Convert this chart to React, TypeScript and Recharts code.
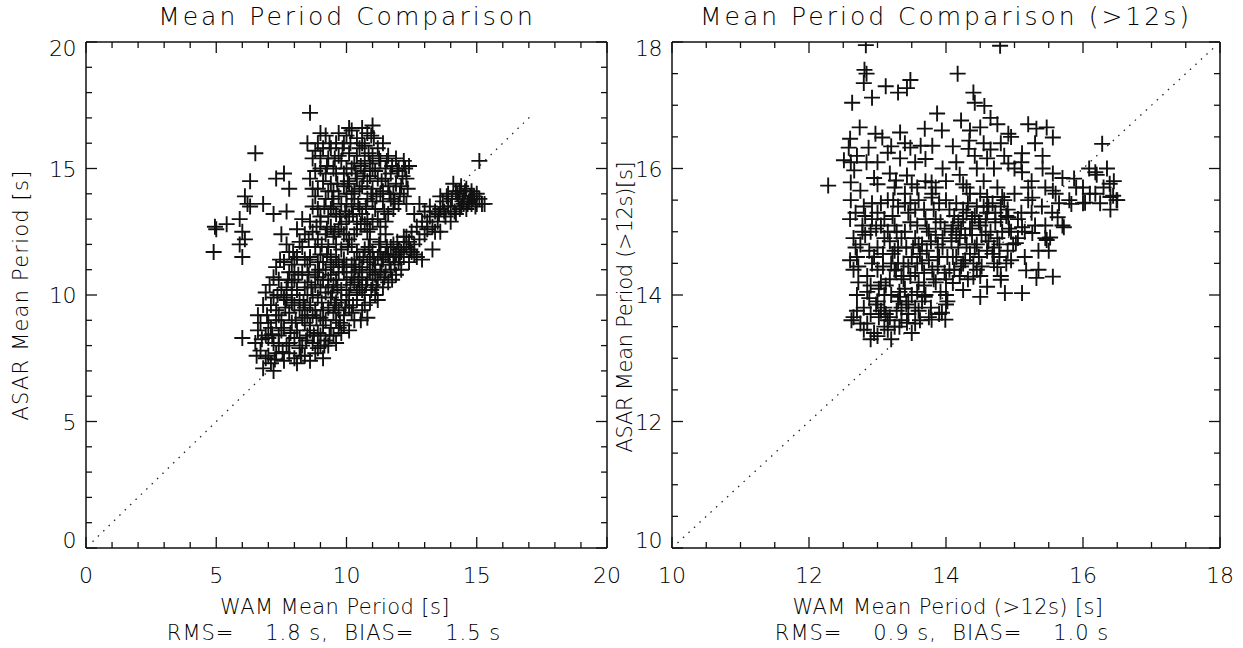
import { ScatterChart, Scatter, XAxis, YAxis, ReferenceLine } from 'recharts';

const FONT = '"DejaVu Sans", "Liberation Sans", sans-serif';
const NB = '\u00A0';

// left panel: all mean periods
const allMajor = [0, 5, 10, 15, 20];
const allMinor = [0, 1, 2, 3, 4, 5, 6, 7, 8, 9, 10, 11, 12, 13, 14, 15, 16, 17, 18, 19, 20];
const allDiag = [0.25, 17.1];

// right panel: periods above 12 s
const longMajor = [10, 12, 14, 16, 18];
const longMinor = [10, 10.5, 11, 11.5, 12, 12.5, 13, 13.5, 14, 14.5, 15, 15.5, 16, 16.5, 17, 17.5, 18];
const longDiag = [10.08, 17.9];

const allStats = ['1.8', '1.5'];
const longStats = ['0.9', '1.0'];

// [WAM, ASAR] pairs
const allPoints: [number, number][] = [
  // scattered low-WAM group
  [4.9, 11.7], [4.95, 12.7], [5.0, 12.6], [5.4, 12.8], [5.9, 13.0], [5.9, 12.0], [6.0, 11.5], [6.1, 12.2],
  [6.3, 14.5], [6.5, 15.6], [6.1, 13.9], [6.3, 13.5], [6.8, 13.6], [7.3, 14.6], [7.6, 14.8], [7.8, 14.2],
  [7.2, 13.2], [7.7, 13.3], [6.0, 8.3], [7.5, 12.4], [7.8, 11.7], [7.6, 11.3], [8.0, 10.9], [8.6, 11.5],
  [6.2, 13.6], [6.0, 12.5],
  // lower band
  [6.5, 8.1], [6.6, 8.6], [6.7, 7.8], [6.6, 9.2], [6.8, 7.1], [6.9, 8.4], [6.8, 9.6], [7.0, 7.6], [6.9, 10.1], [7.0, 8.9],
  [7.1, 7.3], [7.2, 8.1], [7.1, 8.7], [7.3, 9.4], [7.2, 9.9], [7.4, 10.6], [7.3, 7.7], [7.4, 8.4], [7.5, 9.0], [7.3, 11.1],
  [7.5, 10.2], [7.2, 10.7], [7.6, 7.4], [7.7, 8.0], [7.6, 8.7], [7.8, 9.3], [7.7, 9.8], [7.9, 10.5], [7.6, 11.3], [7.8, 7.7],
  [8.0, 8.3], [7.9, 8.9], [8.0, 9.6], [7.8, 10.9], [8.0, 11.4], [7.7, 12.0], [8.1, 7.3], [8.2, 7.9], [8.1, 8.6], [8.3, 9.1],
  [8.2, 9.8], [8.4, 10.3], [8.3, 10.9], [8.1, 11.5], [8.4, 7.6], [8.5, 8.4], [8.4, 9.5], [8.5, 10.0], [8.2, 12.1], [8.5, 11.2],
  [8.6, 7.4], [8.7, 8.1], [8.6, 8.8], [8.8, 9.4], [8.7, 10.0], [8.9, 10.7], [8.6, 11.4], [8.8, 7.7], [8.9, 8.5], [9.0, 9.1],
  [8.8, 11.9], [9.0, 10.3], [8.7, 12.5], [9.1, 7.5], [9.2, 8.2], [9.1, 8.8], [9.3, 9.5], [9.2, 10.1], [9.4, 10.8], [9.1, 11.3],
  [9.3, 8.0], [9.4, 8.7], [9.5, 9.3], [9.3, 11.9], [9.5, 10.4], [9.2, 12.4], [9.4, 11.5], [9.6, 8.1], [9.7, 8.7], [9.6, 9.7],
  [9.8, 10.2], [9.7, 10.9], [9.9, 11.4], [9.6, 12.0], [9.8, 8.5], [9.9, 9.2], [10.0, 9.8], [9.8, 11.8], [10.0, 10.6], [9.7, 12.6],
  [10.1, 8.6], [10.2, 9.3], [10.1, 10.0], [10.3, 10.5], [10.2, 11.2], [10.4, 11.7], [10.1, 12.2], [10.3, 9.0], [10.4, 9.8], [10.5, 10.3],
  [10.3, 12.4], [10.5, 11.0], [10.6, 9.4], [10.7, 10.0], [10.6, 10.7], [10.8, 11.3], [10.7, 11.8], [10.9, 12.2], [10.8, 9.1], [10.9, 9.7],
  [11.0, 10.4], [11.0, 11.0], [11.1, 10.0], [11.2, 10.6], [11.1, 11.2], [11.3, 11.7], [11.2, 9.8], [11.4, 10.3], [11.5, 10.9], [11.4, 11.4],
  [11.3, 12.1], [11.6, 10.5], [11.7, 11.0], [11.6, 11.6], [11.8, 12.0], [11.9, 10.8], [12.0, 11.3], [11.8, 11.5], [12.0, 11.8], [12.1, 11.0],
  [12.2, 11.5], [12.3, 11.9], [12.4, 11.3], [12.5, 11.7], [12.6, 12.0], [12.3, 12.3], [12.7, 11.5],
  [7.0, 8.3], [7.3, 9.0], [7.6, 9.9], [7.9, 10.0], [8.2, 8.3], [8.4, 8.9], [8.6, 9.6], [8.9, 9.9], [9.1, 9.4], [9.4, 9.9],
  [9.7, 9.4], [10.0, 10.2], [10.3, 10.9], [10.6, 10.2], [10.9, 10.9], [11.2, 11.5], [9.0, 8.4], [9.6, 10.6], [10.2, 10.7], [8.8, 10.4],
  [9.9, 10.9], [10.5, 11.4], [11.0, 11.7], [9.3, 10.6], [8.0, 10.6], [8.5, 9.2], [7.4, 8.0], [10.8, 12.5], [11.5, 12.4], [9.5, 11.1],
  [8.3, 11.9], [9.0, 11.6],
  [6.7, 8.9], [6.9, 7.5], [7.1, 9.6], [7.2, 7.0], [7.4, 9.2], [7.5, 8.6], [7.7, 10.3], [7.8, 8.1], [7.9, 9.7], [8.0, 7.5],
  [8.1, 10.2], [8.2, 9.4], [8.3, 8.0], [8.4, 11.4], [8.5, 10.5], [8.6, 8.6], [8.7, 9.2], [8.8, 10.9], [8.9, 7.9], [9.0, 8.0],
  [9.1, 10.6], [9.2, 9.0], [9.3, 10.3], [9.4, 11.2], [9.5, 8.4], [9.6, 9.0], [9.7, 11.3], [9.8, 9.8], [9.9, 8.8], [10.0, 11.2],
  [10.1, 9.5], [10.2, 12.0], [10.3, 11.4], [10.4, 10.1], [10.6, 11.1], [10.7, 9.6], [10.8, 10.6], [10.9, 11.5], [11.1, 10.8], [11.3, 10.9],
  [11.5, 11.6], [11.7, 11.9], [11.9, 11.6], [12.1, 11.7], [12.4, 12.1], [8.9, 11.3], [9.6, 11.4], [10.4, 12.6], [9.2, 11.0], [8.4, 12.4],
  [7.9, 11.2], [8.1, 12.6], [8.9, 12.2], [9.5, 12.3], [10.0, 12.4],
  [6.55, 7.6], [6.75, 8.25], [6.95, 9.2], [7.05, 10.4], [7.15, 8.45], [7.25, 7.45], [7.35, 10.0], [7.45, 11.4], [7.55, 7.75], [7.65, 9.5],
  [7.75, 10.6], [7.85, 8.5], [7.95, 11.7], [8.05, 9.0], [8.15, 10.8], [8.25, 7.6], [8.35, 9.7], [8.45, 8.2], [8.55, 10.8], [8.65, 10.3],
  [8.75, 8.4], [8.85, 9.1], [8.95, 11.0], [9.05, 9.7], [9.15, 8.0], [9.25, 11.6], [9.35, 8.4], [9.45, 10.1], [9.55, 9.6], [9.65, 10.3],
  [9.75, 8.9], [9.85, 11.1], [9.95, 9.5], [10.05, 11.9], [10.15, 10.4], [10.25, 9.6], [10.35, 11.1], [10.45, 10.6], [10.55, 9.0], [10.65, 11.5],
  [10.75, 10.4], [10.85, 11.9], [10.95, 10.2], [11.05, 11.4], [11.15, 10.3], [11.25, 12.0], [11.35, 11.2], [11.45, 10.7], [11.55, 11.9], [11.65, 11.3],
  [11.75, 10.6], [11.85, 11.2], [11.95, 12.1], [12.05, 11.5], [12.2, 11.9], [12.45, 11.8], [12.6, 11.6], [12.2, 12.3], [9.05, 12.0], [9.55, 12.5],
  [8.55, 12.2], [10.55, 12.8],
  // upper cloud
  [8.6, 17.2], [8.5, 16.0], [8.9, 16.0], [9.1, 15.8], [8.7, 15.4], [9.0, 15.0], [9.3, 15.4], [9.2, 14.8], [8.6, 14.6], [8.9, 14.2],
  [9.4, 14.4], [9.6, 14.8], [9.8, 15.3], [9.9, 14.3], [9.2, 13.8], [8.7, 13.5], [9.0, 13.1], [9.5, 13.5], [9.7, 13.9], [10.0, 13.6],
  [10.2, 14.0], [10.4, 14.6], [10.3, 15.2], [10.5, 15.8], [10.6, 16.6], [10.6, 16.0], [10.8, 16.4], [10.4, 16.2], [10.1, 15.6], [10.7, 15.3],
  [11.0, 15.0], [11.3, 15.3], [11.5, 15.0], [11.9, 15.4], [11.7, 14.8], [11.2, 14.6], [11.6, 14.3], [11.0, 14.2], [10.8, 13.8], [10.5, 13.4],
  [10.1, 13.1], [9.8, 12.8], [9.4, 12.7], [9.0, 12.9], [8.6, 12.9], [8.3, 13.0], [9.9, 12.4], [10.4, 12.9], [10.8, 13.0], [11.1, 13.4],
  [11.4, 13.7], [11.8, 14.0], [12.1, 14.3], [12.3, 14.6], [12.0, 13.6], [11.6, 13.2], [11.3, 12.7], [10.9, 12.6], [11.0, 16.7], [11.2, 15.8],
  [10.3, 14.1], [9.6, 13.2], [10.0, 14.0], [10.2, 13.5], [10.6, 14.3], [10.9, 14.7], [9.3, 13.1], [12.4, 15.1], [12.2, 15.3], [11.4, 16.0],
  [11.0, 15.5], [10.0, 16.3], [9.6, 16.0], [9.4, 15.8], [10.2, 15.0], [9.9, 14.8], [11.4, 14.1], [12.2, 13.9], [11.8, 13.4], [10.7, 14.9],
  [9.5, 14.1], [8.8, 13.9],
  [8.8, 14.9], [9.0, 15.5], [9.1, 14.5], [9.3, 14.1], [9.5, 15.0], [9.7, 15.5], [9.8, 13.6], [10.0, 15.0], [10.1, 14.4], [10.3, 13.8],
  [10.4, 15.5], [10.5, 14.2], [10.6, 13.2], [10.7, 15.9], [10.8, 14.5], [10.9, 15.2], [11.0, 13.7], [11.1, 14.9], [11.2, 13.0], [11.3, 14.0],
  [11.5, 14.6], [11.6, 15.5], [11.7, 13.8], [11.9, 14.4], [12.0, 15.0], [9.9, 16.0], [10.2, 16.5], [9.2, 16.3], [8.9, 13.4], [9.4, 13.4],
  [10.7, 12.8], [11.5, 12.9], [12.3, 13.6],
  [8.7, 14.2], [8.8, 15.7], [9.0, 16.4], [9.15, 13.5], [9.25, 15.1], [9.35, 16.0], [9.45, 13.8], [9.55, 15.4], [9.65, 14.4], [9.75, 13.1],
  [9.85, 15.8], [9.95, 13.3], [10.05, 14.5], [10.15, 16.0], [10.25, 13.2], [10.35, 14.8], [10.45, 13.6], [10.55, 15.1], [10.65, 14.7], [10.75, 13.5],
  [10.85, 15.6], [10.95, 14.0], [11.05, 16.2], [11.15, 13.9], [11.25, 15.4], [11.35, 14.5], [11.45, 13.3], [11.55, 15.3], [11.65, 14.0], [11.75, 15.1],
  [11.85, 13.7], [11.95, 14.9], [12.05, 14.0], [12.15, 14.7], [12.25, 15.0], [12.35, 14.2], [10.1, 16.6], [10.95, 16.3], [9.7, 16.4], [8.85, 12.7],
  [9.25, 12.6], [10.0, 12.9], [11.0, 12.9],
  // high-WAM group near the diagonal
  [12.8, 12.2], [12.5, 12.5], [12.9, 11.4], [12.7, 12.7], [13.0, 12.4], [13.3, 11.8], [13.3, 12.7], [13.5, 12.9], [13.4, 13.3], [13.6, 12.5],
  [13.7, 13.7], [13.8, 13.1], [14.0, 13.5], [14.1, 14.4], [14.2, 13.2], [14.3, 13.8], [14.4, 13.5], [14.5, 13.9], [14.6, 13.4], [14.7, 13.7],
  [14.8, 13.6], [15.0, 13.6], [15.3, 13.6], [14.2, 14.1], [13.9, 14.0], [14.6, 14.2], [15.1, 15.3], [13.2, 13.5], [13.0, 13.3], [12.8, 13.6],
  [14.9, 13.9], [14.4, 14.3], [14.0, 12.9], [12.6, 13.2], [13.1, 12.9], [13.6, 13.4], [14.8, 14.1], [15.0, 14.0],
  [13.4, 12.5], [13.55, 13.2], [13.75, 13.3], [13.85, 13.9], [14.05, 13.8], [14.15, 13.3], [14.25, 14.0], [14.35, 13.4], [14.45, 13.7], [14.55, 14.1],
  [14.65, 13.6], [14.75, 13.9], [14.85, 13.8], [14.95, 13.5], [15.1, 13.8], [15.2, 13.6], [13.1, 12.6], [13.2, 13.1], [12.9, 12.9], [13.6, 13.9],
  [13.9, 13.5], [14.35, 14.1], [14.5, 13.6],
];

// [WAM, ASAR] pairs
const longPoints: [number, number][] = [
  // upper scatter
  [12.83, 17.95], [12.81, 17.56], [12.84, 17.5], [12.8, 17.35], [12.92, 17.12], [13.12, 17.3], [13.3, 17.2], [13.43, 17.27],
  [13.48, 17.4], [12.63, 17.04], [13.87, 16.87], [12.74, 16.65], [12.6, 16.47], [12.97, 16.55], [13.07, 16.49], [13.33, 16.57],
  [13.69, 16.63], [13.94, 16.6], [12.58, 16.33], [12.87, 16.33], [13.2, 16.35], [13.48, 16.33], [13.63, 16.36], [13.8, 16.36],
  [12.51, 16.13], [12.61, 16.1], [12.84, 16.1], [13.33, 16.16], [12.66, 15.97], [13.18, 15.92], [13.43, 15.89], [12.28, 15.73],
  [12.61, 15.78], [13.27, 15.81], [13.58, 15.7], [13.79, 15.78], [12.61, 15.5], [12.92, 15.45], [13.23, 15.5], [13.48, 15.45],
  [13.79, 15.54], [14.79, 17.94], [14.17, 17.5], [14.4, 17.2], [14.42, 17.04], [14.56, 16.99], [14.22, 16.76], [14.65, 16.8],
  [14.75, 16.7], [15.32, 16.63], [15.47, 16.65], [15.56, 16.49], [14.91, 16.55], [14.34, 16.44], [16.28, 16.39], [14.33, 16.31],
  [15.11, 16.24], [15.41, 16.2], [14.6, 16.16], [14.91, 16.08], [16.09, 16.0], [16.18, 15.94], [15.87, 15.84], [15.56, 15.92],
  [15.11, 15.94], [15.41, 16.0],
  [13.0, 16.1], [13.15, 16.25], [13.4, 16.4], [12.7, 16.2], [12.95, 15.85], [13.55, 16.1], [13.7, 16.15], [14.1, 16.35],
  [14.5, 16.65], [14.8, 16.4], [15.0, 16.0], [15.2, 15.7], [15.45, 15.7], [15.7, 15.85], [16.0, 15.7], [16.25, 15.45], [16.4, 15.35],
  // right edge along the diagonal
  [16.39, 15.76], [16.44, 15.57], [16.49, 15.5], [16.18, 15.6], [16.03, 15.46], [15.83, 15.44], [15.56, 15.65], [15.26, 15.54],
  [15.63, 15.23], [15.72, 15.07], [15.52, 14.91], [15.47, 14.87], [15.26, 14.98], [15.11, 15.07], [14.91, 15.23], [15.02, 14.82],
  [15.17, 14.39], [15.32, 14.27], [15.56, 14.29], [14.95, 14.55], [14.75, 14.44], [14.8, 14.24], [14.6, 14.13], [14.4, 14.29],
  [14.86, 14.03], [15.11, 14.03], [14.5, 13.97], [14.25, 14.08], [13.94, 13.72], [13.99, 13.61], [13.79, 13.61], [13.43, 13.56],
  [13.18, 13.65], [13.33, 13.97], [13.69, 13.97], [14.1, 14.19], [14.25, 14.5], [13.88, 14.6], [13.58, 14.5], [13.27, 14.39],
  [15.45, 14.9], [15.55, 15.3], [15.5, 14.7], [15.6, 15.6], [15.7, 15.1], [15.65, 15.45], [15.8, 15.5], [15.9, 15.7],
  [16.0, 15.45], [16.1, 15.6], [16.2, 15.9], [16.3, 15.7], [16.4, 15.55], [16.45, 15.8], [16.5, 15.5], [16.35, 16.0],
  // main body
  [12.62, 13.6], [12.7, 14.0], [12.65, 14.4], [12.75, 14.8], [12.6, 15.2], [12.8, 13.8], [12.85, 14.3], [12.7, 14.6],
  [12.9, 15.0], [12.8, 15.4], [12.65, 14.9], [12.9, 13.7], [12.95, 13.4], [13.0, 13.9], [13.05, 14.2], [12.95, 14.6],
  [13.1, 14.9], [13.0, 15.3], [13.15, 13.6], [13.1, 14.0], [13.2, 14.5], [13.05, 15.1], [13.15, 15.5], [13.0, 14.4],
  [13.2, 13.3], [13.1, 13.5], [13.25, 13.5], [13.3, 13.9], [13.35, 14.3], [13.25, 14.7], [13.4, 15.0], [13.3, 15.4],
  [13.45, 13.7], [13.4, 14.1], [13.5, 14.6], [13.35, 14.9], [13.45, 15.3], [13.3, 14.5], [13.5, 13.4], [13.4, 15.6],
  [13.55, 13.8], [13.6, 14.2], [13.65, 14.5], [13.55, 14.9], [13.7, 15.2], [13.6, 15.5], [13.75, 13.65], [13.7, 14.0],
  [13.8, 14.4], [13.65, 14.8], [13.75, 15.0], [13.8, 15.6], [13.85, 14.2], [13.9, 14.6], [13.95, 14.9], [13.85, 15.2],
  [14.0, 15.5], [13.9, 13.7], [14.0, 14.0], [14.05, 14.4], [13.95, 14.75], [14.1, 15.1], [14.05, 15.35], [13.85, 15.7],
  [14.15, 14.6], [14.2, 14.9], [14.25, 15.2], [14.15, 15.45], [14.3, 15.7], [14.2, 14.3], [14.3, 14.8], [14.35, 15.05],
  [14.25, 15.35], [14.4, 14.5], [14.35, 15.6], [14.2, 15.9], [14.45, 14.8], [14.5, 15.1], [14.55, 15.4], [14.45, 14.4],
  [14.6, 14.7], [14.5, 15.6], [14.65, 15.0], [14.6, 15.3], [14.7, 14.5], [14.55, 15.8], [14.7, 16.0], [14.75, 14.9],
  [14.8, 15.2], [14.85, 15.5], [14.9, 14.7], [14.8, 14.3], [14.95, 15.0], [14.9, 15.35], [14.75, 15.7], [15.0, 15.6],
  [14.85, 16.2], [14.95, 16.5], [15.05, 14.9], [15.1, 15.3], [15.2, 15.5], [15.15, 14.6], [15.3, 15.1], [15.25, 15.8],
  [15.35, 14.4], [15.1, 16.1], [15.3, 16.4], [15.4, 15.4], [15.2, 16.7],
  [12.75, 13.55], [12.85, 14.05], [12.72, 14.45], [12.88, 14.7], [12.78, 15.1], [13.02, 13.65], [13.12, 14.15], [13.08, 14.65],
  [13.18, 14.85], [13.22, 15.25], [13.28, 13.75], [13.38, 14.25], [13.32, 14.05], [13.42, 14.75], [13.48, 15.15], [13.58, 14.05],
  [13.62, 14.65], [13.68, 14.35], [13.72, 15.05], [13.78, 14.85], [13.88, 14.45], [13.92, 14.05], [13.98, 15.05], [14.02, 14.6],
  [14.08, 14.85], [14.12, 15.25], [14.18, 14.75], [14.22, 15.05], [14.28, 14.55], [14.32, 15.45], [14.38, 14.95], [14.42, 15.25],
  [14.48, 14.6], [14.52, 14.95], [14.58, 15.2], [14.62, 14.85], [14.68, 15.45], [14.72, 15.15], [14.78, 14.6], [14.82, 15.0],
  [14.88, 15.25], [13.15, 13.45], [13.35, 13.6], [13.55, 13.55], [12.98, 13.85], [13.45, 13.9], [13.65, 13.9], [13.25, 14.4],
  [12.68, 15.3], [12.82, 15.25], [13.05, 15.45], [13.25, 15.1], [13.55, 15.35], [13.82, 15.35], [14.0, 15.8], [14.25, 15.75],
  [14.45, 16.0], [14.65, 16.3], [14.55, 16.4], [14.35, 16.6], [14.42, 16.2], [14.15, 16.1], [13.95, 16.0], [13.7, 15.8],
  [13.5, 15.75], [13.25, 15.7], [13.0, 15.75], [12.75, 15.65],
  [12.7, 13.75], [12.9, 14.15], [12.6, 14.55], [12.82, 14.95], [12.92, 15.2], [13.05, 13.75], [13.2, 14.0], [13.0, 14.75],
  [13.15, 15.0], [13.1, 15.2], [13.35, 13.8], [13.45, 14.45], [13.3, 14.75], [13.4, 15.45], [13.55, 14.35], [13.6, 14.8],
  [13.68, 15.35], [13.75, 14.55], [13.85, 14.95], [13.9, 15.45], [14.0, 14.25], [14.1, 14.6], [14.15, 14.95], [14.3, 15.3],
  [14.35, 14.65], [14.45, 15.4], [14.5, 14.3], [14.6, 15.55], [14.7, 14.75], [14.8, 15.4], [13.1, 13.8], [13.6, 13.75],
  [14.0, 13.85], [12.85, 13.55], [13.5, 14.0], [12.9, 13.3], [13.0, 13.35], [12.8, 13.45],
  [12.65, 13.65], [12.72, 14.2], [12.68, 14.75], [12.78, 15.0], [12.88, 13.95], [12.92, 14.5], [12.98, 15.05], [13.02, 14.1],
  [13.08, 14.45], [13.12, 13.7], [13.18, 14.25], [13.22, 14.65], [13.28, 15.0], [13.32, 13.5], [13.38, 14.5], [13.42, 13.85],
  [13.48, 14.3], [13.52, 14.75], [13.58, 15.1], [13.62, 13.6], [13.68, 14.15], [13.72, 14.7], [13.78, 13.8], [13.82, 14.25],
  [13.88, 14.8], [13.92, 15.15], [13.98, 14.35], [14.02, 13.9], [14.08, 15.0], [14.12, 14.4], [14.18, 15.15], [14.22, 14.45],
  [14.28, 14.95], [14.32, 14.25], [14.38, 15.2], [14.42, 14.75], [14.48, 15.15], [14.52, 14.45], [14.58, 14.95], [14.62, 15.4],
  [14.68, 14.65], [14.72, 15.3], [14.78, 14.8], [14.82, 15.55], [14.88, 14.5], [14.92, 15.05], [14.98, 14.8], [15.05, 15.2],
  [15.15, 15.0], [15.25, 15.3], [15.35, 14.7], [15.45, 15.1],
];

const textStyle = { fontFamily: FONT, fontWeight: 200, fill: '#000' } as const;

function Plus(props: any) {
  const { cx, cy } = props;
  if (cx == null || cy == null) return null;
  return (
    <path
      d={`M${cx - 8},${cy}H${cx + 8}M${cx},${cy - 8}V${cy + 8}`}
      stroke="#111"
      strokeWidth={1.9}
      fill="none"
    />
  );
}

// inward IDL-style tick, plus the number for majors on the bottom/left axes
function makeTick(side: 'bottom' | 'top' | 'left' | 'right', majors: number[], withLabel: boolean) {
  return (p: any) => {
    const v = p.payload.value;
    const { x, y } = p;
    const isMajor = majors.includes(v);
    const len = isMajor ? 11 : 6;
    let line;
    if (side === 'bottom') line = <line x1={x} x2={x} y1={y} y2={y - len} />;
    else if (side === 'top') line = <line x1={x} x2={x} y1={y} y2={y + len} />;
    else if (side === 'left') line = <line x1={x} x2={x + len} y1={y} y2={y} />;
    else line = <line x1={x} x2={x - len} y1={y} y2={y} />;
    let label = null;
    if (withLabel && isMajor) {
      if (side === 'bottom') {
        label = (
          <text x={x} y={y + 35} textAnchor="middle" fontSize={22} {...textStyle}>
            {v}
          </text>
        );
      } else {
        const lo = majors[0];
        const hi = majors[majors.length - 1];
        const shift = v === hi ? 6 : v === lo ? -8 : 0;
        label = (
          <text x={x - 10} y={y + shift + 8} textAnchor="end" fontSize={22} letterSpacing={-0.5} {...textStyle}>
            {v}
          </text>
        );
      }
    }
    return (
      <g key={`${side}-${v}`}>
        <g stroke="#111" strokeWidth={1.3}>{line}</g>
        {label}
      </g>
    );
  };
}

interface PanelProps {
  points: [number, number][];
  domain: [number, number];
  major: number[];
  minor: number[];
  diag: number[];
  left: number;
  width: number;
  margin: { top: number; right: number; bottom: number; left: number };
}

function Panel({ points, domain, major, minor, diag, left, width, margin }: PanelProps) {
  const data = points.map(([x, y]) => ({ x, y }));
  const axisLine = { stroke: '#111', strokeWidth: 1.5 };
  return (
    <div style={{ position: 'absolute', left, top: 0 }}>
      <ScatterChart width={width} height={648} margin={margin}>
        <XAxis xAxisId="b" type="number" dataKey="x" domain={domain} ticks={minor} interval={0}
          orientation="bottom" height={30} tickSize={0} tickMargin={0} tickLine={false}
          axisLine={axisLine} tick={makeTick('bottom', major, true)} allowDataOverflow />
        <XAxis xAxisId="t" type="number" dataKey="x" domain={domain} ticks={minor} interval={0}
          orientation="top" height={10} tickSize={0} tickMargin={0} tickLine={false}
          axisLine={axisLine} tick={makeTick('top', major, false)} allowDataOverflow />
        <YAxis yAxisId="l" type="number" dataKey="y" domain={domain} ticks={minor} interval={0}
          orientation="left" width={30} tickSize={0} tickMargin={0} tickLine={false}
          axisLine={axisLine} tick={makeTick('left', major, true)} allowDataOverflow />
        <YAxis yAxisId="r" type="number" dataKey="y" domain={domain} ticks={minor} interval={0}
          orientation="right" width={10} tickSize={0} tickMargin={0} tickLine={false}
          axisLine={axisLine} tick={makeTick('right', major, false)} allowDataOverflow />
        <ReferenceLine xAxisId="b" yAxisId="l"
          segment={[{ x: diag[0], y: diag[0] }, { x: diag[1], y: diag[1] }]}
          stroke="#222" strokeWidth={1.3} strokeDasharray="1.5 6" />
        <Scatter xAxisId="b" yAxisId="l" data={data} shape={Plus} isAnimationActive={false} />
      </ScatterChart>
    </div>
  );
}

const statLine = (rms: string, bias: string) =>
  `RMS=${NB.repeat(4)}${rms} s,${NB.repeat(2)}BIAS=${NB.repeat(4)}${bias} s`;

export default function App() {
  return (
    <div style={{ position: 'absolute', left: 0, top: 0, width: 1243, height: 648, background: '#fff', overflow: 'hidden' }}>
      {/* plot box 86..607 x 42..548 */}
      <Panel points={allPoints} domain={[0, 20]} major={allMajor} minor={allMinor} diag={allDiag}
        left={0} width={640} margin={{ top: 32, right: 23, bottom: 70, left: 56 }} />
      {/* plot box 672..1220 x 42..548 */}
      <Panel points={longPoints} domain={[10, 18]} major={longMajor} minor={longMinor} diag={longDiag}
        left={630} width={613} margin={{ top: 32, right: 13, bottom: 70, left: 12 }} />
      <svg width={1243} height={648} style={{ position: 'absolute', left: 0, top: 0, pointerEvents: 'none' }}>
        <g {...textStyle} textAnchor="middle">
          <text x={347} y={25} fontSize={25} letterSpacing={3}>Mean Period Comparison</text>
          <text x={946} y={25} fontSize={25} letterSpacing={3}>Mean Period Comparison (&gt;12s)</text>
          <text x={335} y={614} fontSize={21} letterSpacing={0.4}>WAM Mean Period [s]</text>
          <text x={948} y={614} fontSize={21} letterSpacing={0.4}>WAM Mean Period (&gt;12s) [s]</text>
          <text x={334} y={640} fontSize={21} letterSpacing={1}>{statLine(allStats[0], allStats[1])}</text>
          <text x={942} y={640} fontSize={21} letterSpacing={1}>{statLine(longStats[0], longStats[1])}</text>
          <text transform="translate(28,295) rotate(-90)" fontSize={21} letterSpacing={1.2}>ASAR Mean Period [s]</text>
          <text transform="translate(632,307) rotate(-90)" fontSize={21} letterSpacing={-0.3}>ASAR Mean Period (&gt;12s)[s]</text>
        </g>
      </svg>
    </div>
  );
}
